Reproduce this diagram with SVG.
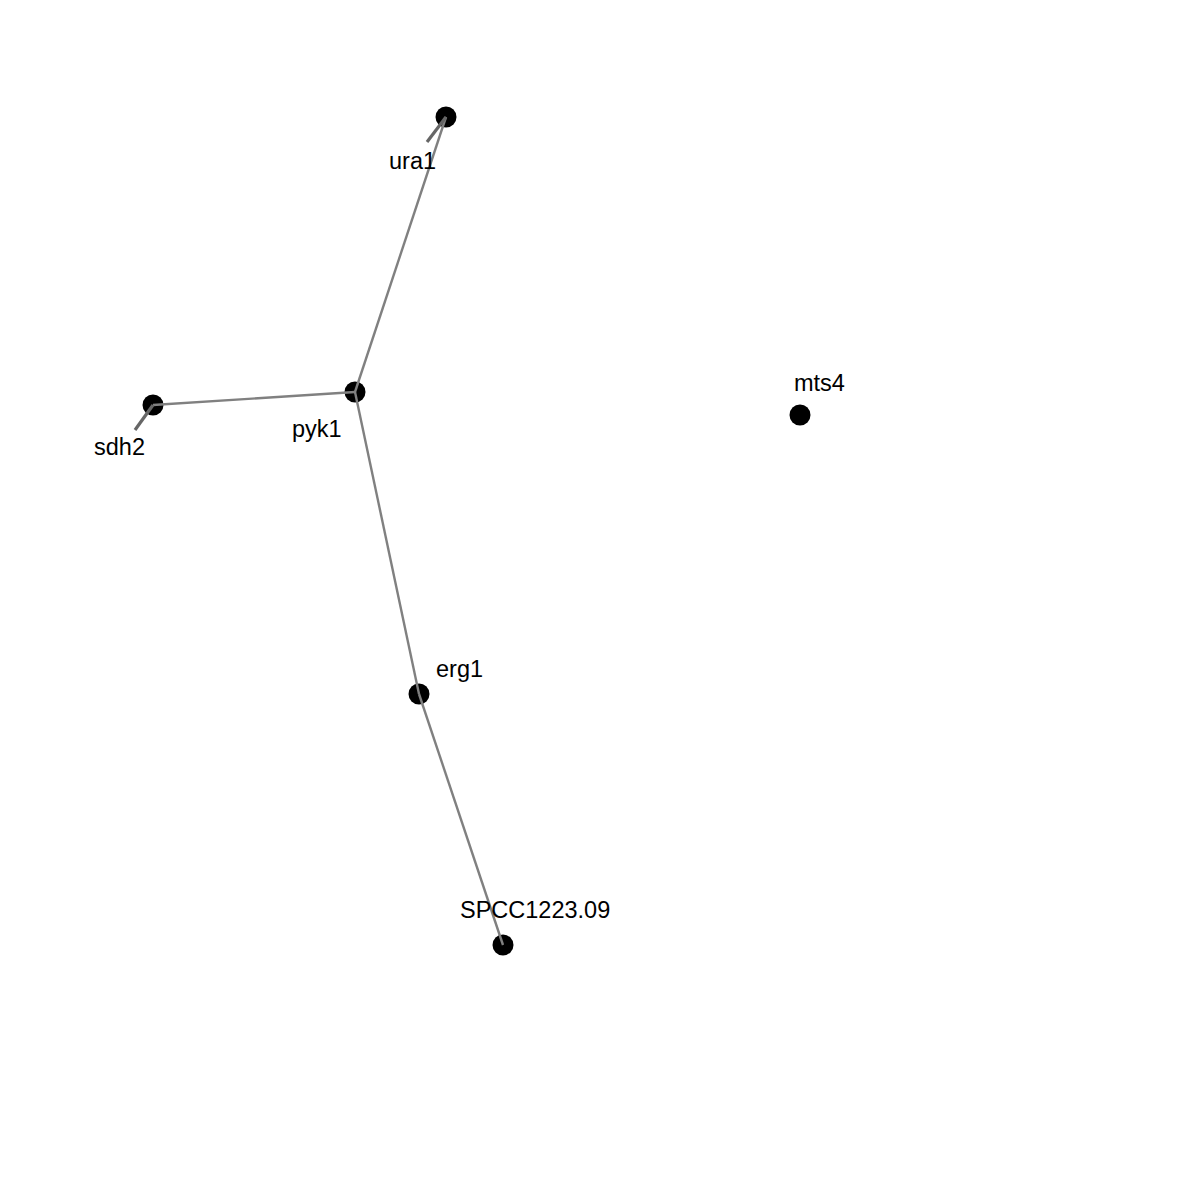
<svg xmlns="http://www.w3.org/2000/svg" width="1200" height="1200" viewBox="0 0 1200 1200">
<style>
.edge{stroke:#808080;stroke-width:2.4;fill:none}
.seg{stroke:#666666;stroke-width:3.2;fill:none}
.node circle{fill:#000000}
text{font-family:"Liberation Sans",Arial,sans-serif;font-size:23.5px;fill:#000000}
</style>
<rect width="1200" height="1200" fill="#ffffff"/>
<g id="nodes">
<g id="ura1" class="node"><circle cx="446" cy="117" r="10.5"/></g>
<g id="pyk1" class="node"><circle cx="355" cy="392" r="10.5"/></g>
<g id="sdh2" class="node"><circle cx="153" cy="405" r="10.5"/></g>
<g id="mts4" class="node"><circle cx="800" cy="415" r="10.5"/></g>
<g id="erg1" class="node"><circle cx="419" cy="694" r="10.5"/></g>
<g id="SPCC1223.09" class="node"><circle cx="503" cy="945" r="10.5"/></g>
</g>
<g id="connectors">
<line class="edge" x1="355" y1="392" x2="446" y2="117"/>
<line class="edge" x1="355" y1="392" x2="153" y2="405"/>
<line class="edge" x1="355" y1="392" x2="419" y2="694"/>
<line class="edge" x1="419" y1="694" x2="503" y2="945"/>
<line class="seg" x1="427" y1="142" x2="446" y2="117"/>
<line class="seg" x1="135" y1="430" x2="153" y2="405"/>
</g>
<g id="labels">
<text x="389" y="169">ura1</text>
<text x="94" y="455">sdh2</text>
<text x="292" y="437">pyk1</text>
<text x="436" y="677">erg1</text>
<text x="460" y="918">SPCC1223.09</text>
<text x="794" y="391">mts4</text>
</g>
</svg>
